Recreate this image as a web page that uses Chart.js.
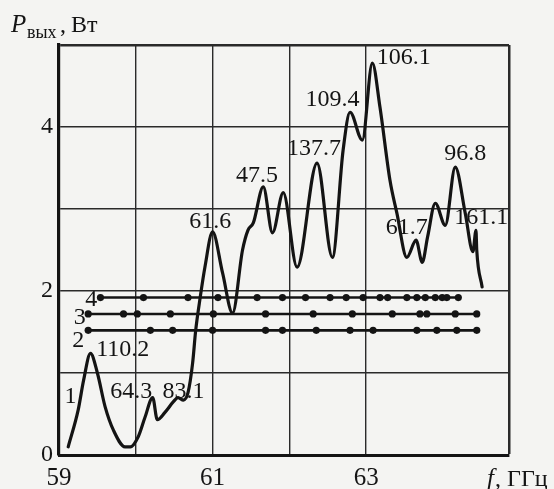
<!DOCTYPE html>
<html>
<head>
<meta charset="utf-8">
<script src="https://cdn.jsdelivr.net/npm/chart.js@4.4.0/dist/chart.umd.min.js"></script>
<style>
  html, body { margin: 0; padding: 0; background: #f4f4f2; }
  #wrap { position: relative; width: 554px; height: 489px; }
</style>
</head>
<body>
<div id="wrap"><canvas id="power-chart"></canvas></div>
<script>(function() { "use strict";

    // main output power curve (1), P in W vs f in GHz
    var curveF = [59.12, 59.25, 59.32, 59.41, 59.50, 59.60, 59.71, 59.86, 59.93, 60.03,
                  60.12, 60.22, 60.28, 60.38, 60.49, 60.55, 60.62, 60.68, 60.74, 60.78,
                  60.84, 60.90, 61.00, 61.13, 61.26, 61.39, 61.46, 61.53, 61.66, 61.78,
                  61.92, 62.10, 62.36, 62.56, 62.70, 62.79, 62.95, 63.08, 63.18, 63.31,
                  63.40, 63.53, 63.65, 63.73, 63.80, 63.90, 64.03, 64.16, 64.29, 64.39,
                  64.43, 64.44, 64.51];
    var curveP = [0.10, 0.55, 0.91, 1.24, 1.00, 0.59, 0.30, 0.10, 0.10, 0.22,
                  0.46, 0.70, 0.43, 0.52, 0.65, 0.70, 0.67, 0.76, 1.12, 1.52,
                  1.93, 2.29, 2.72, 2.22, 1.73, 2.50, 2.74, 2.83, 3.27, 2.71,
                  3.20, 2.29, 3.56, 2.41, 3.72, 4.18, 3.84, 4.78, 4.24, 3.35,
                  2.95, 2.41, 2.62, 2.35, 2.66, 3.07, 2.80, 3.51, 2.95, 2.48,
                  2.74, 2.50, 2.05];

    // levels 2, 3, 4 with their measured points
    var line2F = [59.38, 60.19, 60.48, 61.00, 61.69, 61.91, 62.35, 62.79, 63.09, 63.66, 63.92, 64.18, 64.44];
    var line2P = 1.52;
    var line3F = [59.38, 59.84, 60.02, 60.45, 61.01, 61.69, 62.31, 62.82, 63.34, 63.70, 63.79, 64.16, 64.44];
    var line3P = 1.72;
    var line4F = [59.54, 60.10, 60.68, 61.07, 61.58, 61.91, 62.21, 62.53, 62.74, 62.96, 63.18, 63.28,
                  63.53, 63.66, 63.77, 63.90, 63.99, 64.05, 64.20];
    var line4P = 1.92;

    // peak annotations
    var peakText = ['110.2', '64.3', '83.1', '61.6', '47.5', '137.7', '109.4', '106.1', '61.7', '96.8', '161.1'];
    var peakF = [59.83, 59.94, 60.62, 60.97, 61.58, 62.32, 62.56, 63.49, 63.53, 64.29, 64.50];
    var peakP = [1.28, 0.77, 0.77, 2.84, 3.41, 3.74, 4.33, 4.85, 2.77, 3.68, 2.89];

    // curve numbers
    var numText = ['1', '2', '3', '4'];
    var numF = [59.15, 59.25, 59.27, 59.42];
    var numP = [0.71, 1.39, 1.67, 1.89];

    var xTicks = [59, 61, 63];
    var yTicks = [0, 2, 4];

    var ink = '#141414';
    var serif = '"Liberation Serif", "DejaVu Serif", serif';

    function pts(fs, ps) {
        return fs.map(function(f, i) {
            return { x: f, y: Array.isArray(ps) ? ps[i] : ps };
        });
    }

    var paper = {
        id: 'paper',
        beforeDraw: function(chart) {
            var ctx = chart.ctx;
            ctx.save();
            ctx.fillStyle = '#f4f4f2';
            ctx.fillRect(0, 0, chart.width, chart.height);
            ctx.restore();
        }
    };

    var inkText = {
        id: 'inkText',
        afterDatasetsDraw: function(chart) {
            var ctx = chart.ctx,
                xs = chart.scales.x,
                ys = chart.scales.y,
                a = chart.chartArea;
            ctx.save();
            ctx.fillStyle = ink;
            ctx.textAlign = 'center';
            ctx.textBaseline = 'middle';
            ctx.font = '24px ' + serif;
            peakText.forEach(function(t, i) {
                ctx.fillText(t, xs.getPixelForValue(peakF[i]), ys.getPixelForValue(peakP[i]));
            });
            numText.forEach(function(t, i) {
                ctx.fillText(t, xs.getPixelForValue(numF[i]), ys.getPixelForValue(numP[i]));
            });

            // axis titles
            ctx.textAlign = 'left';
            ctx.textBaseline = 'alphabetic';
            ctx.font = 'italic 25px ' + serif;
            ctx.fillText('P', a.left - 48, a.top - 13);
            ctx.font = '18px ' + serif;
            ctx.fillText('вых', a.left - 32, a.top - 7);
            ctx.font = '24px ' + serif;
            ctx.fillText(',', a.left + 1, a.top - 13);
            ctx.fillText('Вт', a.left + 12, a.top - 13);

            ctx.font = 'italic 25px ' + serif;
            ctx.fillText('f', a.right - 22, chart.height - 3);
            ctx.font = '24px ' + serif;
            ctx.fillText(', ГГц', a.right - 14, chart.height - 3);
            ctx.restore();
        }
    };

    var frameWidth = function(max) {
        return function(c) {
            return (c.tick && Math.abs(c.tick.value - max) < 1e-6) ? 2.5 : 1.4;
        };
    };

    new Chart(document.getElementById('power-chart').getContext('2d'), {
        type: 'line',
        data: {
            datasets: [
                { data: pts(line2F, line2P), borderColor: ink, borderWidth: 2.6,
                  pointRadius: 3.6, pointBackgroundColor: ink, pointBorderWidth: 0 },
                { data: pts(line3F, line3P), borderColor: ink, borderWidth: 2.6,
                  pointRadius: 3.6, pointBackgroundColor: ink, pointBorderWidth: 0 },
                { data: pts(line4F, line4P), borderColor: ink, borderWidth: 2.6,
                  pointRadius: 3.6, pointBackgroundColor: ink, pointBorderWidth: 0 },
                { data: pts(curveF, curveP), borderColor: ink, borderWidth: 3.2,
                  pointRadius: 0, cubicInterpolationMode: 'monotone',
                  borderJoinStyle: 'round', borderCapStyle: 'round' }
            ]
        },
        options: {
            responsive: true,
            maintainAspectRatio: false,
            animation: false,
            layout: { padding: { left: 35, right: 45, top: 45, bottom: -13 } },
            plugins: { legend: { display: false }, tooltip: { enabled: false } },
            scales: {
                x: {
                    type: 'linear',
                    min: 59,
                    max: 64.86,
                    ticks: {
                        stepSize: 1,
                        padding: 11,
                        color: ink,
                        maxRotation: 0,
                        autoSkip: false,
                        font: { family: serif, size: 25, lineHeight: 1 },
                        callback: function(v) { return xTicks.indexOf(v) >= 0 ? String(v) : ''; }
                    },
                    grid: { color: '#2a2a2a', lineWidth: frameWidth(64.86), drawTicks: false },
                    border: { color: ink, width: 3 }
                },
                y: {
                    min: 0,
                    max: 5,
                    ticks: {
                        stepSize: 1,
                        padding: 6,
                        color: ink,
                        font: { family: serif, size: 24, lineHeight: 1 },
                        callback: function(v) { return yTicks.indexOf(v) >= 0 ? String(v) : ''; }
                    },
                    grid: { color: '#2a2a2a', lineWidth: frameWidth(5), drawTicks: false },
                    border: { color: ink, width: 3.2 }
                }
            }
        },
        plugins: [paper, inkText]
    });

})();</script>
</body>
</html>
